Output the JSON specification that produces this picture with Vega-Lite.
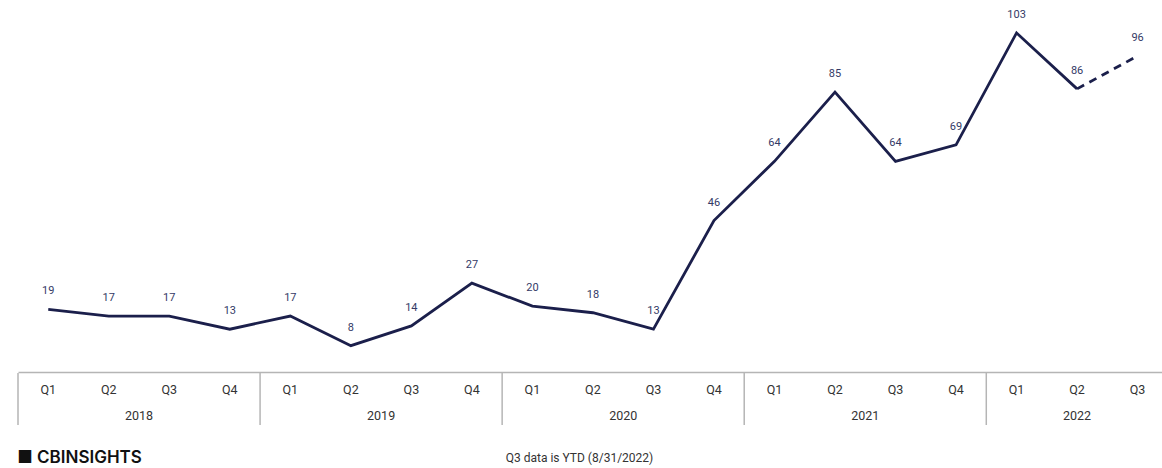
{
  "$schema": "https://vega.github.io/schema/vega-lite/v6.json",
  "background": "white",
  "padding": {"left": 17, "top": 0, "right": 0, "bottom": 0},
  "spacing": 0,
  "datasets": {
    "quarters": [
      {"i": 0, "year": "2018", "q": "Q1", "value": 19},
      {"i": 1, "year": "2018", "q": "Q2", "value": 17},
      {"i": 2, "year": "2018", "q": "Q3", "value": 17},
      {"i": 3, "year": "2018", "q": "Q4", "value": 13},
      {"i": 4, "year": "2019", "q": "Q1", "value": 17},
      {"i": 5, "year": "2019", "q": "Q2", "value": 8},
      {"i": 6, "year": "2019", "q": "Q3", "value": 14},
      {"i": 7, "year": "2019", "q": "Q4", "value": 27},
      {"i": 8, "year": "2020", "q": "Q1", "value": 20},
      {"i": 9, "year": "2020", "q": "Q2", "value": 18},
      {"i": 10, "year": "2020", "q": "Q3", "value": 13},
      {"i": 11, "year": "2020", "q": "Q4", "value": 46},
      {"i": 12, "year": "2021", "q": "Q1", "value": 64},
      {"i": 13, "year": "2021", "q": "Q2", "value": 85},
      {"i": 14, "year": "2021", "q": "Q3", "value": 64},
      {"i": 15, "year": "2021", "q": "Q4", "value": 69},
      {"i": 16, "year": "2022", "q": "Q1", "value": 103},
      {"i": 17, "year": "2022", "q": "Q2", "value": 86},
      {"i": 18, "year": "2022", "q": "Q3", "value": 96}
    ]
  },
  "title": {
    "text": "■ CBINSIGHTS",
    "orient": "bottom",
    "anchor": "start",
    "font": "Inter",
    "fontSize": 17,
    "fontWeight": 600,
    "color": "#111111",
    "offset": -14
  },
  "vconcat": [
    {
      "width": 1145,
      "height": 372,
      "data": {"name": "quarters"},
      "encoding": {
        "x": {"field": "i", "type": "quantitative",
              "scale": {"domain": [-0.5, 18.42], "nice": false, "zero": false},
              "axis": {"title": null, "labels": false, "ticks": false, "grid": false,
                       "domain": true, "domainColor": "#b5b5b5", "domainWidth": 1.5}},
        "y": {"field": "value", "type": "quantitative",
              "scale": {"domain": [0, 113], "nice": false},
              "axis": null}
      },
      "layer": [
        {
          "transform": [{"filter": "datum.i <= 17"}],
          "mark": {"type": "line", "color": "#1b1f4b", "strokeWidth": 2.8, "strokeJoin": "miter"}
        },
        {
          "transform": [{"filter": "datum.i >= 17"}],
          "mark": {"type": "line", "color": "#1b1f4b", "strokeWidth": 2.8, "strokeDash": [8, 6]}
        },
        {
          "mark": {"type": "text", "dy": -18, "fontSize": 11, "color": "#343a66", "font": "Roboto", "baseline": "middle"},
          "encoding": {"text": {"field": "value", "type": "quantitative"}}
        }
      ],
      "view": {"stroke": null}
    },
    {
      "width": 1145,
      "height": 52,
      "data": {"name": "quarters"},
      "title": {
        "text": "Q3 data is YTD (8/31/2022)",
        "orient": "bottom",
        "anchor": "middle",
        "font": "Roboto",
        "fontSize": 12,
        "fontWeight": "normal",
        "color": "#333333",
        "dx": -11,
        "offset": 27
      },
      "encoding": {
        "x": {"field": "i", "type": "quantitative",
              "scale": {"domain": [-0.5, 18.42], "nice": false, "zero": false},
              "axis": null}
      },
      "layer": [
        {
          "mark": {"type": "text", "fontSize": 12.5, "font": "Roboto", "color": "#333333", "baseline": "middle", "dy": 4},
          "encoding": {
            "y": {"datum": "Q", "type": "nominal", "scale": {"domain": ["Q", "Year"], "paddingInner": 0, "paddingOuter": 0}, "axis": null},
            "text": {"field": "q", "type": "nominal"}
          }
        },
        {
          "transform": [{"aggregate": [{"op": "mean", "field": "i", "as": "mid"}], "groupby": ["year"]}],
          "mark": {"type": "text", "fontSize": 12.5, "font": "Roboto", "color": "#333333", "baseline": "middle", "dy": 4},
          "encoding": {
            "x": {"field": "mid", "type": "quantitative"},
            "y": {"datum": "Year", "type": "nominal"},
            "text": {"field": "year", "type": "nominal"}
          }
        },
        {
          "transform": [
            {"aggregate": [{"op": "min", "field": "i", "as": "first"}], "groupby": ["year"]},
            {"calculate": "datum.first - 0.5", "as": "edge"}
          ],
          "mark": {"type": "rule", "color": "#b5b5b5", "strokeWidth": 1.5},
          "encoding": {"x": {"field": "edge", "type": "quantitative"}}
        }
      ],
      "view": {"stroke": null}
    }
  ]
}
